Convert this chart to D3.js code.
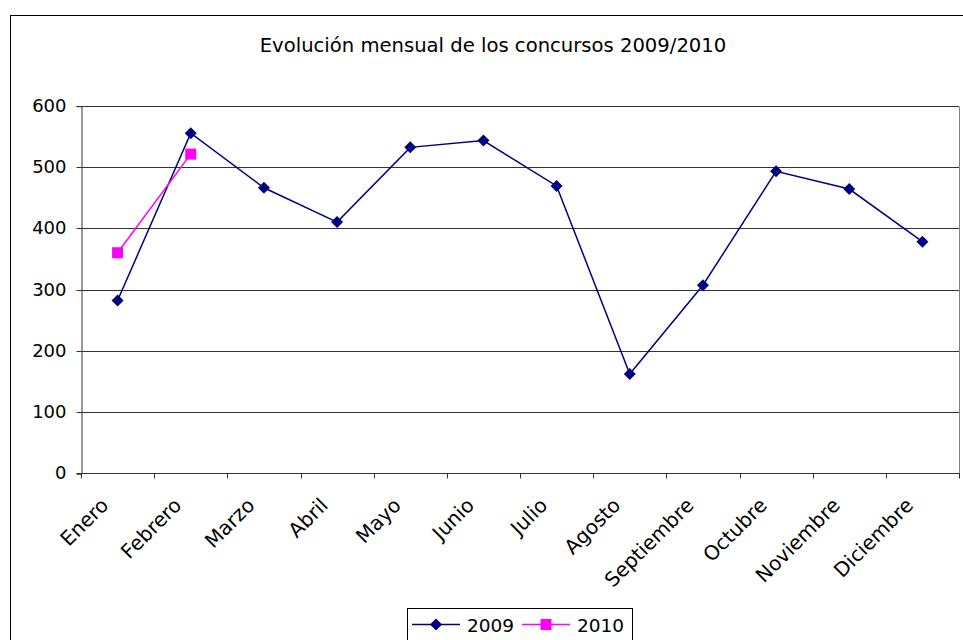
<!DOCTYPE html>
<html><head><meta charset="utf-8">
<script src="https://cdn.jsdelivr.net/npm/d3@7"></script>
<style>body{margin:0;background:#fff}svg{display:block}text{font-family:Verdana,"DejaVu Sans",sans-serif;fill:#000}</style>
</head><body><svg id="c" width="963" height="640"></svg>
<script>
const months = ["Enero","Febrero","Marzo","Abril","Mayo","Junio","Julio","Agosto","Septiembre","Octubre","Noviembre","Diciembre"];
const values2009 = [282,555,466,410,532,543,469,162,307,493,464,378];
const values2010 = [360,521];
const yTicks = [0,100,200,300,400,500,600];
const title = "Evolución mensual de los concursos 2009/2010";

const svg = d3.select("#c");
const m = {l:81, r:959, t:105.7, b:473.3};
// outer border
svg.append("rect").attr("x",10.5).attr("y",15.5).attr("width",970).attr("height",640).attr("fill","none").attr("stroke","#000");

const x = d3.scaleBand().domain(months).range([m.l,m.r]).padding(0);
const y = d3.scaleLinear().domain([0,600]).range([m.b,m.t]);

// gridlines
svg.append("g").selectAll("line").data(yTicks.filter(d=>d>0)).join("line")
  .attr("x1",m.l).attr("x2",m.r).attr("y1",d=>Math.round(y(d))+0.5).attr("y2",d=>Math.round(y(d))+0.5)
  .attr("stroke","#333").attr("stroke-width",1);
// plot right border
svg.append("line").attr("x1",m.r+0.5).attr("x2",m.r+0.5).attr("y1",Math.round(m.t)+0.5).attr("y2",Math.round(m.b)+0.5).attr("stroke","#808080");

// y axis
const yAxis = d3.axisLeft(y).tickValues(yTicks).tickSize(5).tickPadding(10).tickFormat(d3.format("d"));
const gy = svg.append("g").attr("transform",`translate(${m.l+0.5},0.5)`).call(yAxis);
gy.select(".domain").attr("stroke","#333");
gy.selectAll("line").attr("stroke","#333");
gy.selectAll("text").attr("font-size",18).style("font-family","Verdana, DejaVu Sans");
gy.selectAll(".tick").attr("transform",d=>`translate(0,${Math.round(y(d))})`);

// x axis
const gx = svg.append("g").attr("transform",`translate(0,${Math.round(m.b)+0.5})`);
gx.append("line").attr("x1",m.l).attr("x2",m.r+1).attr("stroke","#333");
const tickPos = months.map((d,i)=>x(d)).concat([m.r]);
gx.selectAll("line.tk").data(tickPos).join("line").attr("class","tk")
  .attr("x1",d=>Math.round(d)+0.5).attr("x2",d=>Math.round(d)+0.5).attr("y1",0).attr("y2",5).attr("stroke","#333");
gx.selectAll("text").data(months).join("text")
  .attr("transform",d=>`translate(${x(d)+x.bandwidth()/2-8},${33}) rotate(-45)`)
  .attr("text-anchor","end").attr("font-size",20).text(d=>d);

// title
svg.append("text").attr("x",493).attr("y",52).attr("text-anchor","middle").attr("font-size",19.6).text(title);

const cx = d=>x(d)+x.bandwidth()/2;
const line = d3.line().x((d,i)=>cx(months[i])).y(d=>y(d));
svg.append("path").datum(values2009).attr("d",line).attr("fill","none").attr("stroke","#000080").attr("stroke-width",1.5);
svg.append("path").datum(values2010).attr("d",line).attr("fill","none").attr("stroke","#FF00FF").attr("stroke-width",1.5);
svg.append("g").selectAll("path").data(values2009).join("path")
  .attr("transform",(d,i)=>`translate(${cx(months[i])},${y(d)}) rotate(45)`)
  .attr("d",d3.symbol().type(d3.symbolSquare).size(72)).attr("fill","#000080");
svg.append("g").selectAll("rect").data(values2010).join("rect")
  .attr("x",(d,i)=>cx(months[i])-5.5).attr("y",d=>y(d)-5.5).attr("width",11).attr("height",11).attr("fill","#FF00FF");

// legend
const lg = svg.append("g").attr("transform","translate(407,608)");
lg.append("rect").attr("x",0.5).attr("y",0.5).attr("width",225).attr("height",40).attr("fill","#fff").attr("stroke","#000");
const items = [{n:"2009",c:"#000080",s:"d"},{n:"2010",c:"#FF00FF",s:"s"}];
const ly = 16.5;
items.forEach((it,i)=>{
  const ox = 5 + i*110;
  lg.append("line").attr("x1",ox).attr("x2",ox+48).attr("y1",ly).attr("y2",ly).attr("stroke",it.c).attr("stroke-width",1.5);
  if(it.s==="d") lg.append("path").attr("transform",`translate(${ox+24},${ly}) rotate(45)`).attr("d",d3.symbol().type(d3.symbolSquare).size(72)).attr("fill",it.c);
  else lg.append("rect").attr("x",ox+18.5).attr("y",ly-5.5).attr("width",11).attr("height",11).attr("fill",it.c);
  lg.append("text").attr("x",ox+55).attr("y",23.5).attr("font-size",18.5).text(it.n);
});
</script></body></html>
